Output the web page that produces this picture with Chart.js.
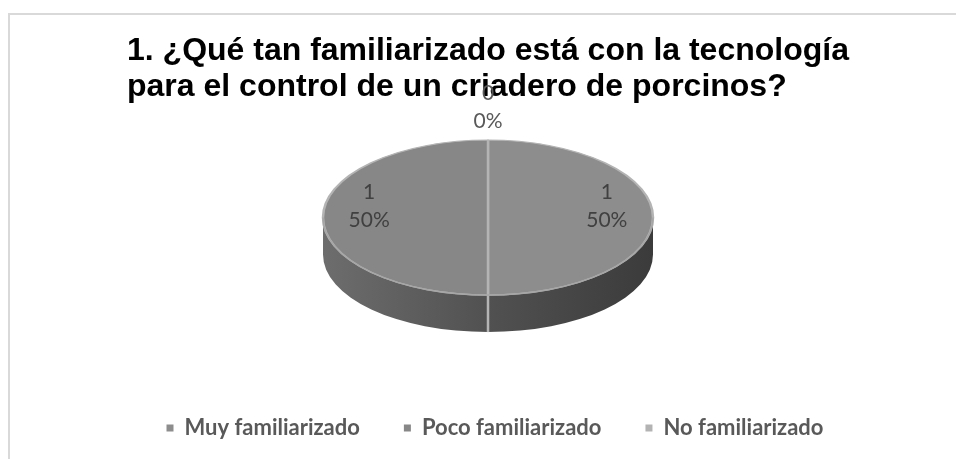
<!DOCTYPE html>
<html lang="es">
<head>
<meta charset="utf-8">
<title>Familiaridad con la tecnología</title>
<script src="https://cdn.jsdelivr.net/npm/chart.js@4.4.1/dist/chart.umd.min.js"></script>
<style>
    html, body { margin: 0; padding: 0; background: #fff; }
    #wrap { position: relative; width: 956px; height: 459px; overflow: hidden; }
    #frame { position: absolute; left: 8px; top: 13px; right: -4px; bottom: -4px;
             border-top: 2px solid #d9d9d9; border-left: 2px solid #d9d9d9; }
    #chart { position: absolute; left: 0; top: 0; }
</style>
</head>
<body>
<div id="wrap">
    <div id="frame"></div>
    <canvas id="chart" width="956" height="459"></canvas>
</div>
<script>
// Survey, question 1
const titleLines = [
    '1. ¿Qué tan familiarizado está con la tecnología',
    'para el control de un criadero de porcinos?'
];
const categories = ['Muy familiarizado', 'Poco familiarizado', 'No familiarizado'];
const answers = [1, 1, 0];
const sliceColors = ['#8d8d8d', '#878787', '#b3b3b3'];

const TITLE_FONT = 'bold 32px "Liberation Sans", Arial, sans-serif';

// 3D pie look
const TILT = 0.47;    // vertical squash of the top face
const DEPTH = 37;     // wall thickness
const RADIUS = 165;
const LEGEND_NUDGE = 7;

function pieGeometry(chart) {
    const meta = chart.getDatasetMeta(0);
    const first = meta.data[0];
    const cx = first.x;
    const cy = first.y;
    const r = first.outerRadius;
    const ey = chart.chartArea.top + r * TILT;
    return { meta, cx, cy, r, ey };
}

// Visible (front) part of an arc, in canvas angles
function frontSegments(a0, a1) {
    const out = [];
    [-2, 0, 2].forEach(k => {
        const lo = k * Math.PI, hi = lo + Math.PI;
        const s = Math.max(a0, lo), e = Math.min(a1, hi);
        if (e > s) out.push([s, e]);
    });
    return out;
}

const pie3d = {
    id: 'pie3d',
    afterLayout(chart) {
        // left-aligned title block, centred over the pie
        const tb = chart.titleBlock;
        const ctx = chart.ctx;
        ctx.save();
        ctx.font = TITLE_FONT;
        const w = Math.max(...titleLines.map(t => ctx.measureText(t).width));
        ctx.restore();
        const cx = (chart.chartArea.left + chart.chartArea.right) / 2;
        tb.left = cx - w / 2;

        chart.legend.left += LEGEND_NUDGE;
        chart.legend.right += LEGEND_NUDGE;
    },
    beforeDatasetsDraw(chart) {
        const ctx = chart.ctx;
        const { meta, cx, cy, r, ey } = pieGeometry(chart);

        const wall = ctx.createLinearGradient(cx - r, 0, cx + r, 0);
        wall.addColorStop(0, '#6d6d6d');
        wall.addColorStop(0.5, '#515151');
        wall.addColorStop(1, '#3b3b3b');

        ctx.save();
        meta.data.forEach(arc => {
            frontSegments(arc.startAngle, arc.endAngle).forEach(([s, e]) => {
                ctx.beginPath();
                ctx.ellipse(cx, ey, r, r * TILT, 0, s, e);
                ctx.ellipse(cx, ey + DEPTH, r, r * TILT, 0, e, s, true);
                ctx.closePath();
                ctx.fillStyle = wall;
                ctx.fill();
            });
        });
        // seams where slices meet on the wall
        ctx.strokeStyle = '#b4b4b4';
        ctx.lineWidth = 2.5;
        meta.data.forEach(arc => {
            const a = ((arc.startAngle % (2 * Math.PI)) + 2 * Math.PI) % (2 * Math.PI);
            if (a > 0.01 && a < Math.PI - 0.01) {
                const x = cx + Math.cos(a) * r;
                const y = ey + Math.sin(a) * r * TILT;
                ctx.beginPath();
                ctx.moveTo(x, y);
                ctx.lineTo(x, y + DEPTH);
                ctx.stroke();
            }
        });
        ctx.restore();

        // squash the flat pie into the top face
        ctx.save();
        ctx.translate(0, ey);
        ctx.scale(1, TILT);
        ctx.translate(0, -cy);
    },
    afterDatasetsDraw(chart) {
        const ctx = chart.ctx;
        ctx.restore();

        const { meta, cx, r, ey } = pieGeometry(chart);
        const total = answers.reduce((a, b) => a + b, 0);

        // light rim between top face and wall
        ctx.save();
        ctx.beginPath();
        ctx.ellipse(cx, ey, r, r * TILT, 0, 0, Math.PI);
        ctx.strokeStyle = '#a6a6a6';
        ctx.lineWidth = 1.5;
        ctx.stroke();

        // data labels: value and percentage
        ctx.font = '21px Lato, sans-serif';
        ctx.textAlign = 'center';
        ctx.textBaseline = 'middle';
        meta.data.forEach((arc, i) => {
            const v = answers[i];
            const pct = Math.round(v / total * 100) + '%';
            const mid = (arc.startAngle + arc.endAngle) / 2;
            if (v > 0) {
                const x = cx + Math.cos(mid) * r * 0.72;
                const y = ey + Math.sin(mid) * r * 0.72 * TILT - 11;
                ctx.fillStyle = '#404040';
                ctx.fillText(String(v), x, y - 14);
                ctx.fillText(pct, x, y + 14);
            } else {
                const x = cx + Math.cos(mid) * r;
                const y = ey + Math.sin(mid) * r * TILT;
                ctx.fillStyle = '#595959';
                ctx.fillText(pct, x, y - 19);
                ctx.fillText(String(v), x, y - 47);
            }
        });
        ctx.restore();
    }
};

function initChart() {
    const ctx = document.getElementById('chart').getContext('2d');
    new Chart(ctx, {
        type: 'pie',
        data: {
            labels: categories,
            datasets: [{
                data: answers,
                backgroundColor: sliceColors,
                borderColor: '#b4b4b4',
                borderWidth: 2.5,
                radius: RADIUS,
                clip: false
            }]
        },
        options: {
            responsive: false,
            animation: false,
            devicePixelRatio: 1,
            layout: { padding: { left: 20, bottom: 10 } },
            plugins: {
                tooltip: { enabled: false },
                title: {
                    display: true,
                    text: titleLines,
                    align: 'start',
                    color: '#000000',
                    font: { family: '"Liberation Sans", Arial, sans-serif', size: 32, weight: 'bold', lineHeight: 1.125 },
                    padding: { top: 33, bottom: 35 }
                },
                legend: {
                    position: 'bottom',
                    labels: {
                        boxWidth: 7,
                        boxHeight: 7,
                        padding: 44,
                        color: '#595959',
                        font: { family: 'Lato, sans-serif', size: 22, weight: 'bold' },
                        generateLabels(chart) {
                            return Chart.overrides.doughnut.plugins.legend.labels.generateLabels(chart)
                                .map(item => ({ ...item, lineWidth: 0, strokeStyle: 'rgba(0,0,0,0)' }));
                        }
                    }
                }
            }
        },
        plugins: [pie3d]
    });
}

initChart();
</script>
</body>
</html>
